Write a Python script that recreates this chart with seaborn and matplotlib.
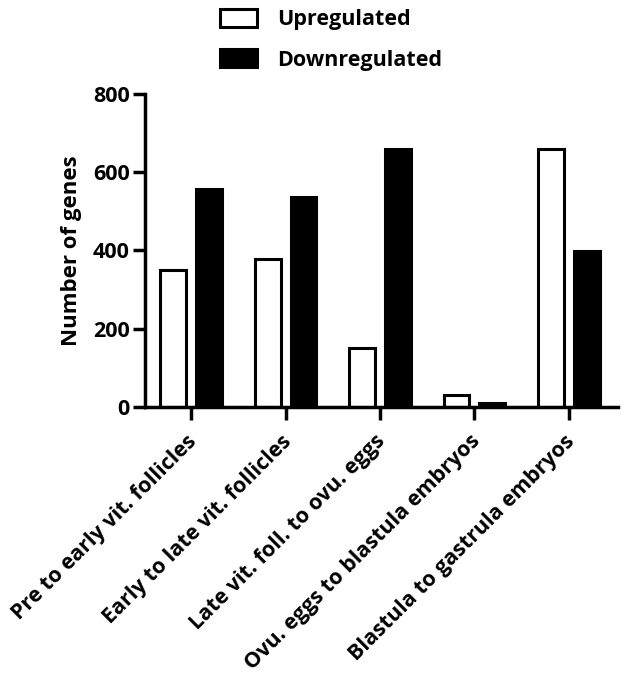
import pandas as pd
import matplotlib
matplotlib.use("Agg")
import matplotlib.pyplot as plt
import matplotlib.transforms as mtransforms
import seaborn as sns

# Data
categories = [
    "Pre to early vit. follicles",
    "Early to late vit. follicles",
    "Late vit. foll. to ovu. eggs",
    "Ovu. eggs to blastula embryos",
    "Blastula to gastrula embryos",
]
upregulated = [349, 378, 150, 32, 658]
downregulated = [557, 535, 658, 11, 398]

df = pd.DataFrame({
    "Transition": categories * 2,
    "Genes": upregulated + downregulated,
    "Direction": ["Upregulated"] * len(categories) + ["Downregulated"] * len(categories),
})

sns.set_theme(style="ticks")
plt.rcParams["font.family"] = ["Open Sans", "DejaVu Sans"]
plt.rcParams["font.weight"] = "bold"
plt.rcParams["axes.labelweight"] = "bold"
plt.rcParams["text.color"] = "black"
plt.rcParams["axes.labelcolor"] = "black"
plt.rcParams["xtick.labelcolor"] = "black"
plt.rcParams["ytick.labelcolor"] = "black"

fig = plt.figure(figsize=(6.23, 6.73), dpi=100)
ax = fig.add_axes([0.2327, 0.395, 0.759, 0.466])

sns.barplot(
    data=df, x="Transition", y="Genes", hue="Direction",
    palette={"Upregulated": "white", "Downregulated": "black"},
    edgecolor="black", linewidth=2.2, width=0.76, gap=0.28, ax=ax,
)

ax.set_ylim(0, 800)
ax.set_yticks([0, 200, 400, 600, 800])
ax.set_xlim(-0.49, 4.52)
ax.set_xlabel("")
ax.set_ylabel("Number of genes", fontsize=16, fontweight="bold", labelpad=8,
              color="black")
sns.despine(ax=ax)
for s in ["left", "bottom"]:
    ax.spines[s].set_linewidth(2.5)
    ax.spines[s].set_color("black")
ax.tick_params(axis="both", width=2.5, length=9, color="black",
               labelcolor="black", labelsize=15.5)
ax.tick_params(axis="y", pad=2)
ax.tick_params(axis="x", labelsize=15.5, pad=8)
# nudge rotated labels a little left
shift = mtransforms.ScaledTranslation(-5 / 100, 0, fig.dpi_scale_trans)
for lbl in ax.get_xticklabels():
    lbl.set_rotation(45)
    lbl.set_ha("right")
    lbl.set_rotation_mode("anchor")
    lbl.set_fontweight("bold")
    lbl.set_transform(lbl.get_transform() + shift)
plt.setp(ax.get_yticklabels(), fontweight="bold")

handles, labels = ax.get_legend_handles_labels()
ax.legend_.remove()
fig.legend(
    handles, labels, loc="upper left", bbox_to_anchor=(220 / 623, 1 - 9 / 673),
    frameon=False, borderpad=0, borderaxespad=0,
    handlelength=1.72, handleheight=0.88, handletextpad=0.93, labelspacing=0.89,
    prop={"weight": "bold", "size": 15.5}, labelcolor="black",
)

fig.savefig("out.png", dpi=100)
